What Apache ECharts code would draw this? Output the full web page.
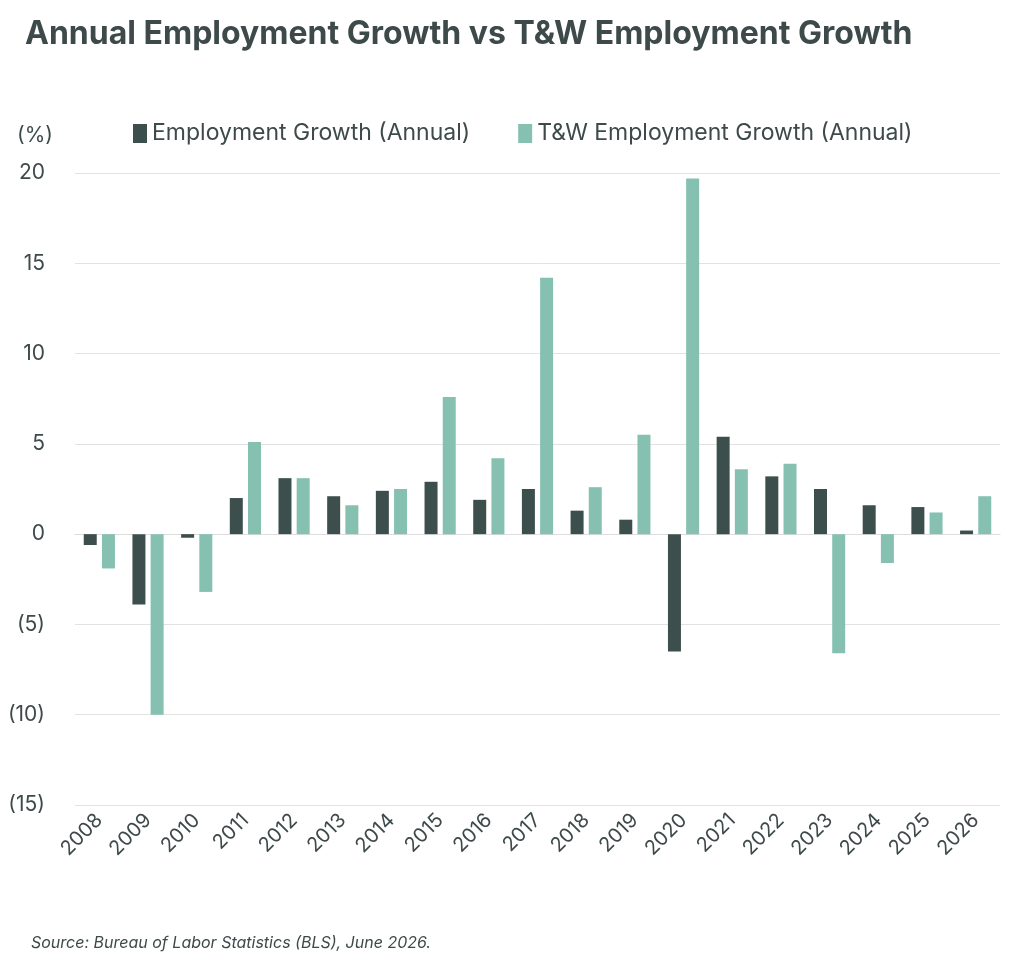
<!DOCTYPE html>
<html><head><meta charset="utf-8">
<script src="https://cdn.jsdelivr.net/npm/echarts@6/dist/echarts.min.js"></script>
<style>body{margin:0;background:#fff}#c{width:1024px;height:961px}</style>
</head><body><div id="c"></div>
<script>
const categories=['2008','2009','2010','2011','2012','2013','2014','2015','2016','2017','2018','2019','2020','2021','2022','2023','2024','2025','2026'];
const empGrowth=[-0.6,-3.9,-0.2,2.0,3.1,2.1,2.4,2.9,1.9,2.5,1.3,0.8,-6.5,5.4,3.2,2.5,1.6,1.5,0.2];
const twGrowth=[-1.9,-10.0,-3.2,5.1,3.1,1.6,2.5,7.6,4.2,14.2,2.6,5.5,19.7,3.6,3.9,-6.6,-1.6,1.2,2.1];
const seriesNames=['Employment Growth (Annual)','T&W Employment Growth (Annual)'];
const chart=echarts.init(document.getElementById('c'));
const txt='#3e4a4a';
chart.setOption({
  animation:false,
  textStyle:{fontFamily:'Inter, Roboto, sans-serif'},
  title:[{text:'Annual Employment Growth vs T&W Employment Growth',left:20,top:13,textStyle:{fontSize:32,fontWeight:'bold',color:txt,fontFamily:'Inter, sans-serif'}},
         {text:'(%)',left:12,top:120,textStyle:{fontSize:21,fontWeight:'normal',color:txt}},
         {text:'Source: Bureau of Labor Statistics (BLS), June 2026.',left:26,top:930,textStyle:{fontSize:16,fontStyle:'italic',fontWeight:'normal',color:txt}}],
  legend:{top:117,left:128,itemWidth:14,itemHeight:19,itemGap:48,textStyle:{fontSize:23,color:txt},icon:'rect'},
  grid:{left:75,right:24,top:173,bottom:156,containLabel:false},
  xAxis:{type:'category',data:categories,axisTick:{show:false},axisLine:{lineStyle:{color:'#ddd'}},
    axisLabel:{rotate:45,fontSize:20,color:txt,margin:12}},
  yAxis:{type:'value',min:-15,max:20,interval:5,
    axisLabel:{fontSize:21,color:txt,margin:30,formatter:v=>v<0?'('+(-v)+')':String(v)},
    splitLine:{lineStyle:{color:'#e2e2e2'}}},
  series:[
    {name:seriesNames[0],type:'bar',data:empGrowth,barWidth:13,barGap:'40%',itemStyle:{color:'#3d4f4d'}},
    {name:seriesNames[1],type:'bar',data:twGrowth,barWidth:13,itemStyle:{color:'#86c0b1'}}
  ]
});
</script></body></html>
